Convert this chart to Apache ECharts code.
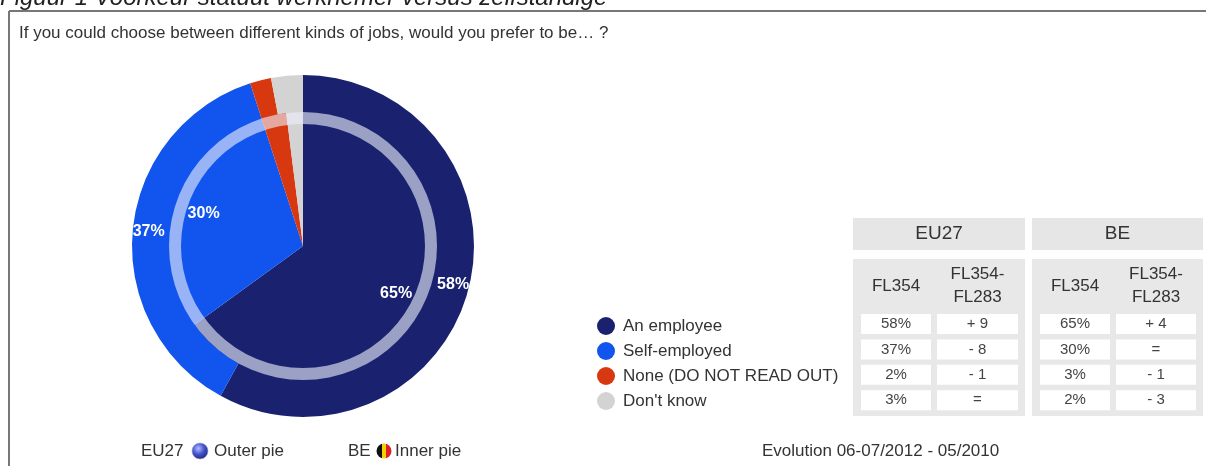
<!DOCTYPE html>
<html>
<head>
<meta charset="utf-8">
<script src="https://cdn.jsdelivr.net/npm/echarts@6/dist/echarts.min.js"></script>
<style>
html,body{margin:0;padding:0;background:#fff;}
#chart{width:1206px;height:466px;}
</style>
</head>
<body>
<div id="chart"></div>
<script>
// ---- data ----
const categories = ['An employee', 'Self-employed', 'None (DO NOT READ OUT)', "Don't know"];
const eu27 = [58, 37, 2, 3];           // outer pie, FL354
const be = [65, 30, 3, 2];             // inner pie, FL354
const eu27Change = ['+ 9', '- 8', '- 1', '='];   // FL354-FL283
const beChange = ['+ 4', '=', '- 1', '- 3'];
const groupLabels = ['EU27', 'BE'];
const colLabels = ['FL354', 'FL354-\nFL283'];
const questionText = 'If you could choose between different kinds of jobs, would you prefer to be\u2026 ?';
const figureText = 'Figuur 1 Voorkeur statuut werknemer versus zelfstandige';
const evolutionText = 'Evolution 06-07/2012 - 05/2010';

// ---- style ----
const colors = ['#1a2270', '#1155ee', '#d8380f', '#d3d3d3'];
const FONT = "'Liberation Sans', Arial, sans-serif";
const TXT = '#333';
const C = [303, 246];

const chart = echarts.init(document.getElementById('chart'));

const graphic = [];
// cut-off figure caption at top
graphic.push({type:'text', z:5, style:{x:0, y:10, text:figureText, fontFamily:FONT, fontStyle:'italic', fontSize:24, fill:'#222', verticalAlign:'bottom'}});
// frame
graphic.push({type:'line', z:5, shape:{x1:9, y1:11, x2:1206, y2:11}, style:{stroke:'#777', lineWidth:2}});
graphic.push({type:'line', z:5, shape:{x1:9, y1:11, x2:9, y2:466}, style:{stroke:'#777', lineWidth:2}});
// question
graphic.push({type:'text', z:5, style:{x:19, y:33, text:questionText, fontFamily:FONT, fontSize:17, fill:TXT, verticalAlign:'middle'}});
// ring overlay between pies
graphic.push({type:'ring', z:100, shape:{cx:C[0], cy:C[1], r:134, r0:122}, style:{fill:'rgba(236,238,250,0.62)'}});

// table
const groups = [{x:853, w:172, vals:eu27, chg:eu27Change}, {x:1032, w:171, vals:be, chg:beChange}];
groups.forEach((g, gi) => {
  graphic.push({type:'rect', z:5, shape:{x:g.x, y:218, width:g.w, height:32}, style:{fill:'#e6e6e6'}});
  graphic.push({type:'text', z:6, style:{x:g.x + g.w/2, y:234, text:groupLabels[gi], fontFamily:FONT, fontSize:19, fill:TXT, align:'center', verticalAlign:'middle'}});
  graphic.push({type:'rect', z:5, shape:{x:g.x, y:259, width:g.w, height:157}, style:{fill:'#e8e8e8'}});
  const cols = [{x:g.x + 8, w:70}, {x:g.x + 84, w:g.w - 91}];
  cols.forEach((c, ci) => {
    graphic.push({type:'text', z:6, style:{x:c.x + c.w/2, y:286, text:colLabels[ci], fontFamily:FONT, fontSize:17, lineHeight:23, fill:TXT, align:'center', verticalAlign:'middle'}});
    for (let r = 0; r < categories.length; r++) {
      const y = 314 + r * 25.4;
      graphic.push({type:'rect', z:6, shape:{x:c.x, y:y, width:c.w, height:20}, style:{fill:'#ffffff'}});
      const t = ci === 0 ? g.vals[r] + '%' : g.chg[r];
      graphic.push({type:'text', z:7, style:{x:c.x + c.w/2, y:y + 10, text:t, fontFamily:FONT, fontSize:15, fill:'#444', align:'center', verticalAlign:'middle'}});
    }
  });
});

// bottom notes
graphic.push({type:'text', z:5, style:{x:141, y:451, text:'EU27', fontFamily:FONT, fontSize:17, fill:TXT, verticalAlign:'middle'}});
graphic.push({type:'circle', z:5, shape:{cx:200, cy:451, r:8}, style:{fill:new echarts.graphic.RadialGradient(0.4, 0.35, 0.7, [{offset:0, color:'#b3bdff'}, {offset:0.5, color:'#4454cc'}, {offset:1, color:'#1c237a'}]), stroke:'#a0a6cc', lineWidth:0.6}});
graphic.push({type:'text', z:5, style:{x:214, y:451, text:'Outer pie', fontFamily:FONT, fontSize:17, fill:TXT, verticalAlign:'middle'}});
graphic.push({type:'text', z:5, style:{x:348, y:451, text:'BE', fontFamily:FONT, fontSize:17, fill:TXT, verticalAlign:'middle'}});
graphic.push({type:'circle', z:5, shape:{cx:384, cy:451, r:7.5}, style:{fill:new echarts.graphic.LinearGradient(0, 0, 1, 0, [{offset:0, color:'#111'}, {offset:0.34, color:'#111'}, {offset:0.34, color:'#f5d000'}, {offset:0.66, color:'#f5d000'}, {offset:0.66, color:'#e0202a'}, {offset:1, color:'#e0202a'}])}});
graphic.push({type:'text', z:5, style:{x:395, y:451, text:'Inner pie', fontFamily:FONT, fontSize:17, fill:TXT, verticalAlign:'middle'}});
graphic.push({type:'text', z:5, style:{x:762, y:451, text:evolutionText, fontFamily:FONT, fontSize:17, fill:TXT, verticalAlign:'middle'}});

const toData = vals => categories.map((n, i) => ({name:n, value:vals[i], itemStyle:{color:colors[i]}}));
const lbl = {show:true, position:'inside', color:'#fff', fontFamily:FONT, fontSize:16, fontWeight:'bold',
  formatter: p => p.value >= 5 ? p.value + '%' : ''};

chart.setOption({
  animation:false,
  color: colors,
  legend: {
    data: categories, orient:'vertical', left:597, top:317, padding:0,
    icon:'circle', itemWidth:24, itemHeight:18, itemGap:7,
    selectedMode:false,
    textStyle:{fontFamily:FONT, fontSize:17, color:TXT, lineHeight:18, padding:[0,0,0,0]}
  },
  graphic: graphic,
  series: [
    {type:'pie', name:'EU27', center:C, radius:[133, 171], startAngle:90, clockwise:true, silent:true,
     avoidLabelOverlap:false, data:toData(eu27), label:lbl, labelLine:{show:false}, itemStyle:{borderWidth:0}},
    {type:'pie', name:'BE', center:C, radius:[0, 134], startAngle:90, clockwise:true, silent:true,
     data:toData(be), label:{show:false}, labelLine:{show:false}, itemStyle:{borderWidth:0}},
    {type:'pie', name:'BE labels', center:C, radius:[70, 133], startAngle:90, clockwise:true, silent:true, z:3,
     avoidLabelOverlap:false, data:categories.map((n, i) => ({name:n, value:be[i]})),
     itemStyle:{color:'rgba(0,0,0,0)', borderWidth:0}, label:lbl, labelLine:{show:false}}
  ]
});
</script>
</body>
</html>
